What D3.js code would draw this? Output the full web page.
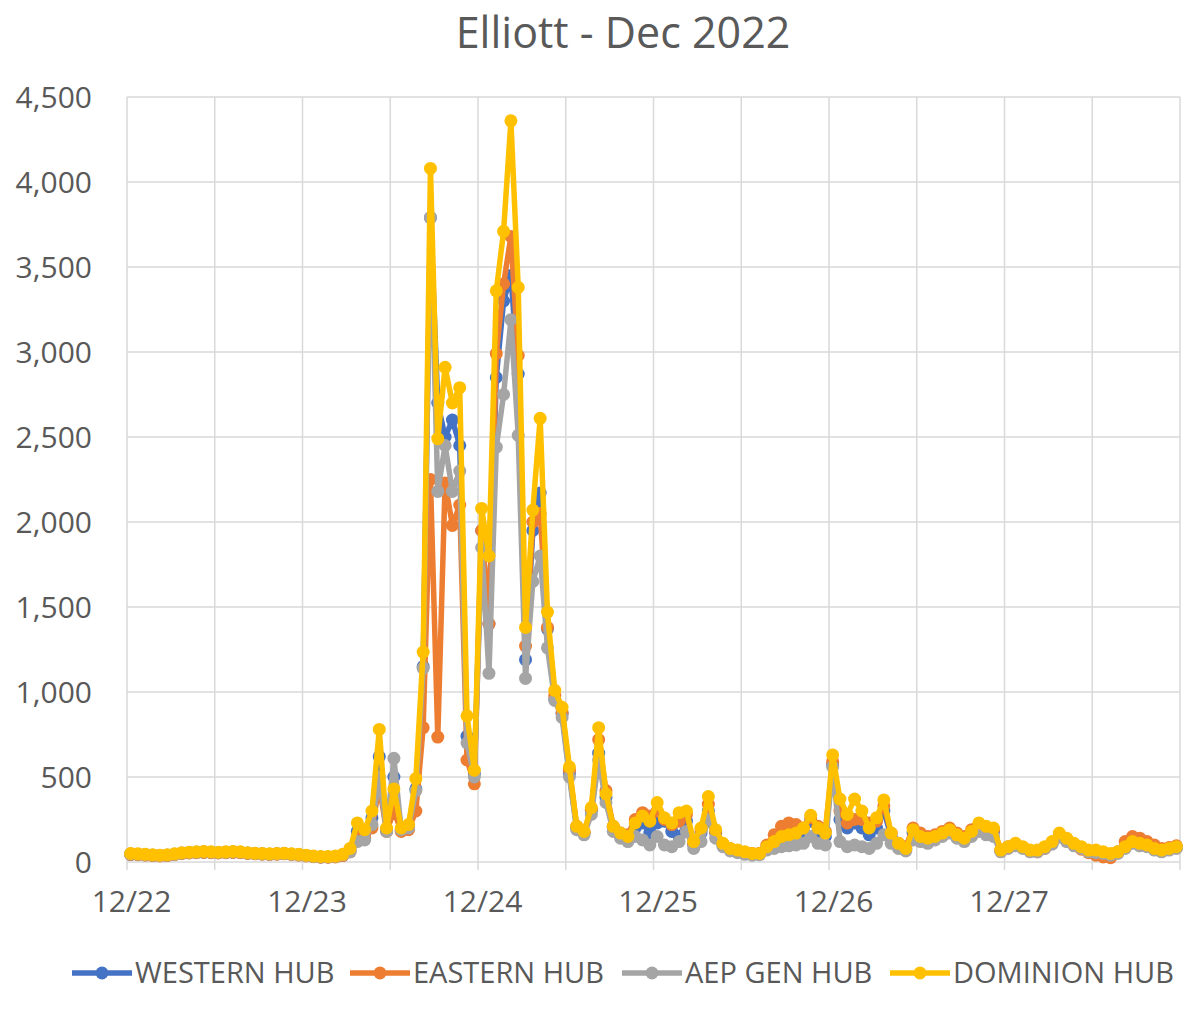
<!DOCTYPE html>
<html>
<head>
<meta charset="utf-8">
<script src="https://cdn.jsdelivr.net/npm/d3@7"></script>
<style>
    body { margin: 0; background: #fff; }
    svg { display: block; font-family: "Open Sans", "Noto Sans", sans-serif; }
</style>
</head>
<body>
<svg id="chart" width="1200" height="1013"></svg>
<script>
// Hourly LMP, 12/22 00:00 - 12/27 23:00 (one value per hour)
const dayLabels = ['12/22', '12/23', '12/24', '12/25', '12/26', '12/27'];
const yTicks = [0, 500, 1000, 1500, 2000, 2500, 3000, 3500, 4000, 4500];

const westernHub = [
    45, 44, 42, 40, 38, 40, 45, 52, 55, 57, 58, 57, 55, 57, 58, 57, 52, 50, 48, 46, 48, 50, 46, 43,
    38, 33, 30, 30, 32, 40, 70, 180, 170, 260, 620, 190, 500, 190, 210, 430, 1150, 3790, 2700, 2500, 2600, 2450, 740, 520,
    1950, 1400, 2850, 3300, 3450, 2870, 1190, 1950, 2170, 1370, 960, 870, 520, 200, 170, 300, 640, 380, 200, 160, 140, 200, 230, 170,
    230, 240, 180, 150, 240, 100, 170, 300, 170, 100, 75, 65, 55, 48, 48, 85, 110, 130, 140, 150, 170, 240, 180, 150,
    570, 250, 200, 230, 200, 160, 200, 300, 150, 100, 75, 170, 140, 130, 140, 160, 180, 150, 130, 170, 210, 190, 180, 65,
    85, 100, 85, 65, 65, 85, 110, 150, 130, 100, 85, 65, 60, 55, 45, 55, 85, 115, 100, 95, 75, 65, 75, 85
];

const easternHub = [
    45, 43, 41, 38, 36, 38, 44, 50, 53, 55, 56, 55, 53, 55, 56, 55, 50, 48, 46, 44, 46, 48, 44, 41,
    36, 31, 28, 28, 30, 38, 60, 150, 140, 200, 450, 180, 300, 180, 190, 300, 790, 2250, 735, 2230, 1980, 2100, 600, 460,
    1950, 1400, 2990, 3400, 3680, 2980, 1270, 2000, 2050, 1380, 980, 880, 540, 210, 175, 310, 720, 420, 210, 170, 160, 250, 290, 270,
    300, 250, 220, 240, 280, 110, 190, 340, 180, 105, 78, 68, 58, 50, 52, 100, 160, 210, 230, 220, 200, 260, 210, 180,
    590, 300, 230, 250, 250, 230, 240, 330, 170, 110, 90, 200, 170, 150, 160, 180, 200, 170, 150, 190, 220, 200, 190, 70,
    90, 105, 85, 65, 60, 80, 110, 160, 130, 100, 75, 55, 40, 30, 25, 60, 120, 150, 140, 120, 100, 80, 85, 95
];

const aepGenHub = [
    48, 46, 43, 40, 38, 40, 46, 53, 56, 58, 60, 58, 56, 58, 60, 58, 53, 50, 48, 46, 48, 50, 46, 43,
    38, 33, 30, 30, 33, 42, 60, 120, 130, 220, 500, 180, 610, 190, 200, 420, 1140, 3790, 2180, 2450, 2180, 2300, 700, 500,
    1850, 1110, 2440, 2750, 3190, 2510, 1080, 1650, 1800, 1260, 950, 850, 500, 190, 160, 280, 600, 350, 180, 140, 120, 150, 130, 100,
    150, 100, 90, 120, 180, 80, 120, 250, 140, 90, 65, 55, 45, 40, 42, 70, 80, 90, 95, 100, 110, 150, 110, 100,
    560, 120, 90, 100, 90, 80, 110, 160, 110, 80, 65, 130, 120, 110, 130, 150, 170, 140, 120, 150, 180, 160, 150, 60,
    80, 95, 80, 60, 60, 80, 105, 145, 120, 95, 80, 60, 55, 50, 40, 50, 80, 110, 95, 90, 70, 60, 70, 80
];

const dominionHub = [
    50, 48, 45, 42, 40, 42, 48, 55, 58, 60, 62, 60, 58, 60, 62, 60, 55, 52, 50, 48, 50, 52, 48, 45,
    40, 35, 33, 32, 35, 45, 80, 230, 190, 300, 780, 200, 430, 200, 220, 490, 1235, 4080, 2490, 2910, 2700, 2790, 860, 540,
    2080, 1800, 3360, 3710, 4360, 3380, 1380, 2070, 2610, 1470, 1010, 910, 560, 210, 180, 320, 790, 400, 210, 170, 150, 230, 270, 240,
    350, 260, 230, 290, 300, 120, 200, 385, 190, 110, 80, 70, 60, 50, 50, 90, 120, 150, 160, 170, 200, 275, 200, 170,
    630, 370, 280, 370, 300, 200, 260, 365, 170, 110, 80, 190, 150, 140, 150, 170, 190, 160, 140, 180, 230, 210, 200, 70,
    90, 110, 90, 70, 70, 90, 120, 170, 140, 110, 90, 70, 70, 60, 50, 60, 90, 120, 110, 100, 80, 70, 80, 90
];

const seriesNames = ['WESTERN HUB', 'EASTERN HUB', 'AEP GEN HUB', 'DOMINION HUB'];
const seriesColors = ['#4472C4', '#ED7D31', '#A5A5A5', '#FFC000'];
const seriesValues = [westernHub, easternHub, aepGenHub, dominionHub];

const svg = d3.select('#chart');
const margin = { left: 127, right: 20, top: 97, bottom: 151 };
const width = 1200, height = 1013;
const textColor = '#595959';
const gridColor = '#D9D9D9';

const hours = dayLabels.length * 24;
const x = d3.scaleLinear().domain([0, hours]).range([margin.left, width - margin.right]);
const y = d3.scaleLinear().domain([0, 4500]).range([height - margin.bottom, margin.top]);

// Title
svg.append('text')
    .attr('x', 623)
    .attr('y', 48)
    .attr('text-anchor', 'middle')
    .style('fill', textColor)
    .style('font-size', '43px')
    .text('Elliott - Dec 2022');

// Gridlines
const grid = svg.append('g');
grid.selectAll('.hgrid')
    .data(yTicks)
    .enter()
    .append('line')
    .attr('x1', x(0))
    .attr('x2', x(hours))
    .attr('y1', d => y(d))
    .attr('y2', d => y(d))
    .style('stroke', gridColor)
    .style('stroke-width', 1.5);

grid.selectAll('.vgrid')
    .data(d3.range(0, hours + 1, 12))
    .enter()
    .append('line')
    .attr('x1', d => x(d))
    .attr('x2', d => x(d))
    .attr('y1', y(4500))
    .attr('y2', y(0) + 8)
    .style('stroke', gridColor)
    .style('stroke-width', 1.5);

// Y axis labels
const yAxis = svg.append('g')
    .attr('transform', `translate(${margin.left - 32},0)`)
    .call(d3.axisLeft(y).tickValues(yTicks).tickFormat(d3.format(',')).tickSize(0));
yAxis.select('.domain').remove();
yAxis.selectAll('text')
    .attr('dy', '0.35em')
    .style('fill', textColor)
    .style('font-size', '30px')
    .style('font-family', '"Open Sans", sans-serif');

// X axis labels (one per day)
const xAxis = svg.append('g')
    .attr('transform', `translate(4,${y(0) + 26})`)
    .call(d3.axisBottom(x)
        .tickValues(d3.range(0, hours, 24))
        .tickFormat((d, i) => dayLabels[i])
        .tickSize(0));
xAxis.select('.domain').remove();
xAxis.selectAll('text')
    .attr('dy', '0.71em')
    .style('fill', textColor)
    .style('font-size', '30px')
    .style('font-family', '"Open Sans", sans-serif');

// Series: line + markers, points sit at mid-hour
const line = d3.line()
    .x((d, i) => x(i + 0.5))
    .y(d => y(d));

const plot = svg.append('g');
seriesValues.forEach((values, s) => {
    const g = plot.append('g');
    g.append('path')
        .datum(values)
        .attr('d', line)
        .style('fill', 'none')
        .style('stroke', seriesColors[s])
        .style('stroke-width', 5.5)
        .style('stroke-linejoin', 'round');

    g.selectAll('circle')
        .data(values)
        .enter()
        .append('circle')
        .attr('cx', (d, i) => x(i + 0.5))
        .attr('cy', d => y(d))
        .attr('r', 6.5)
        .style('fill', seriesColors[s]);
});

// Legend
const legendX = [72, 350, 622, 890];
const legend = svg.append('g')
    .attr('transform', 'translate(0, 973)');

const items = legend.selectAll('.legend-item')
    .data(seriesNames)
    .enter()
    .append('g')
    .attr('transform', (d, i) => `translate(${legendX[i]}, 0)`);

items.append('line')
    .attr('x1', 0)
    .attr('x2', 60)
    .style('stroke', (d, i) => seriesColors[i])
    .style('stroke-width', 5.5);

items.append('circle')
    .attr('cx', 30)
    .attr('r', 6.5)
    .style('fill', (d, i) => seriesColors[i]);

items.append('text')
    .attr('x', 63)
    .attr('dy', '0.36em')
    .style('fill', textColor)
    .style('font-size', '29px')
    .text(d => d);
</script>
</body>
</html>
